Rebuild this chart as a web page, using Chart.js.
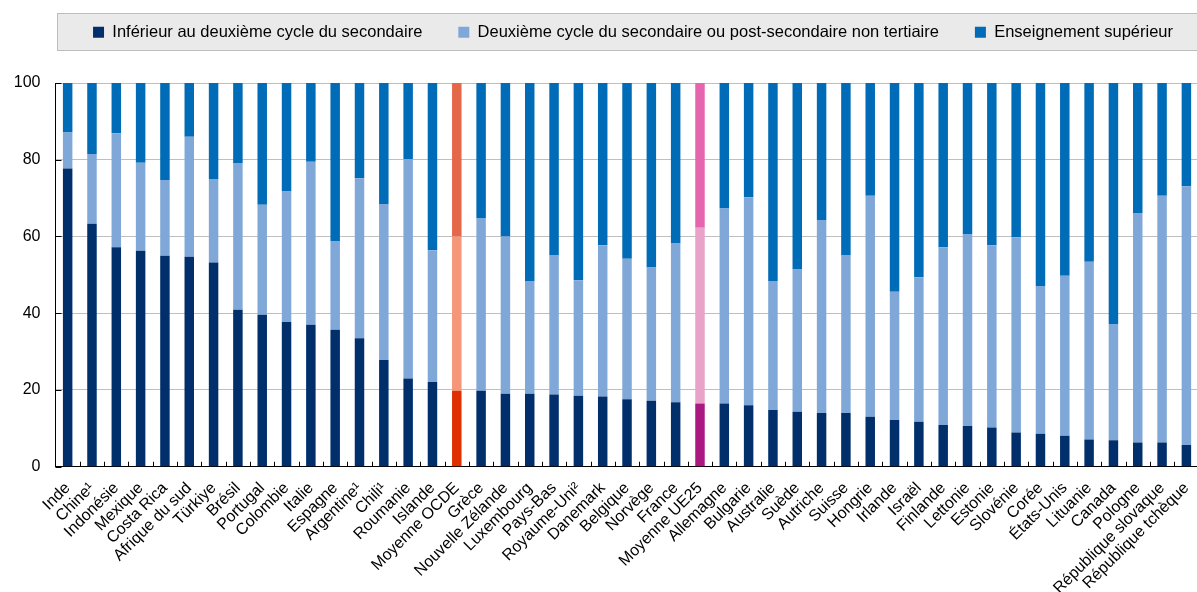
<!DOCTYPE html>
<html>
<head>
<meta charset="utf-8">
<script src="https://cdn.jsdelivr.net/npm/chart.js@4"></script>
<style>
  html, body { margin: 0; padding: 0; background: #fff; overflow: hidden; }
  #wrap { width: 1212px; height: 610px; }
</style>
</head>
<body>
<div id="wrap"><canvas id="c" width="1212" height="610"></canvas></div>
<script>
var countries = ['Inde', 'Chine¹', 'Indonésie', 'Mexique', 'Costa Rica', 'Afrique du sud', 'Türkiye', 'Brésil',
  'Portugal', 'Colombie', 'Italie', 'Espagne', 'Argentine¹', 'Chili¹', 'Roumanie', 'Islande', 'Moyenne OCDE',
  'Grèce', 'Nouvelle Zélande', 'Luxembourg', 'Pays-Bas', 'Royaume-Uni²', 'Danemark', 'Belgique', 'Norvège',
  'France', 'Moyenne UE25', 'Allemagne', 'Bulgarie', 'Australie', 'Suède', 'Autriche', 'Suisse', 'Hongrie',
  'Irlande', 'Israël', 'Finlande', 'Lettonie', 'Estonie', 'Slovénie', 'Corée', 'États-Unis', 'Lituanie',
  'Canada', 'Pologne', 'République slovaque', 'République tchèque'];

var belowUpperSec = [77.7, 63.3, 57.2, 56.3, 55.0, 54.7, 53.2, 40.9, 39.6, 37.7, 37.0, 35.7, 33.5, 27.8, 23.0, 22.1,
  19.8, 19.8, 19.0, 19.0, 18.8, 18.5, 18.3, 17.6, 17.2, 16.8, 16.5, 16.5, 16.0, 14.8, 14.3, 14.0, 14.0, 13.0,
  12.2, 11.7, 10.9, 10.6, 10.2, 8.9, 8.6, 8.1, 7.1, 6.9, 6.3, 6.3, 5.7];

var upperSec = [9.4, 18.2, 29.7, 22.9, 19.7, 31.3, 21.8, 38.1, 28.7, 34.0, 42.5, 23.0, 41.7, 40.7, 57.2, 34.3,
  40.2, 45.0, 41.0, 29.4, 36.4, 30.1, 39.4, 36.6, 34.7, 41.5, 45.8, 50.8, 54.2, 33.6, 37.1, 50.3, 41.2, 57.6,
  33.4, 37.7, 46.3, 49.9, 47.5, 50.9, 38.5, 41.7, 46.3, 30.3, 59.8, 64.3, 67.4];

var tertiary = [12.9, 18.5, 13.1, 20.8, 25.3, 14.0, 25.0, 21.0, 31.7, 28.3, 20.5, 41.3, 24.8, 31.5, 19.8, 43.6,
  40.0, 35.2, 40.0, 51.6, 44.8, 51.4, 42.3, 45.8, 48.1, 41.7, 37.7, 32.7, 29.8, 51.6, 48.6, 35.7, 44.8, 29.4,
  54.4, 50.6, 42.8, 39.5, 42.3, 40.2, 52.9, 50.2, 46.6, 62.8, 33.9, 29.4, 26.9];

var seriesNames = ['Inférieur au deuxième cycle du secondaire',
  'Deuxième cycle du secondaire ou post-secondaire non tertiaire',
  'Enseignement supérieur'];

var yTicks = [0, 20, 40, 60, 80, 100];

// colours: normal, OECD average, EU average
var palette = [
  { base: '#002F6C', oecd: '#DE3000', eu: '#AB1880' },
  { base: '#7FA8D9', oecd: '#F69679', eu: '#E9A3C9' },
  { base: '#006BB6', oecd: '#E5674A', eu: '#E566AF' }
];

function colorsFor(k) {
  return countries.map(function (c) {
    if (c === 'Moyenne OCDE') return palette[k].oecd;
    if (c === 'Moyenne UE25') return palette[k].eu;
    return palette[k].base;
  });
}

var fontFamily = '"Liberation Sans", Arial, sans-serif';

// grey band behind the legend, and extra room between legend and plot
var legendBox = {
  id: 'legendBox',
  beforeLayout: function (chart) {
    var lg = chart.legend;
    if (lg && !lg._tall) {
      var fit = lg.fit;
      lg.fit = function () { fit.call(this); this.height = 95; };
      lg._tall = true;
    }
  },
  beforeDraw: function (chart) {
    var lg = chart.legend;
    if (!lg || !lg.legendHitBoxes.length) return;
    var hb = lg.legendHitBoxes[0];
    var cy = Math.round(hb.top + hb.height / 2);
    var ctx = chart.ctx;
    ctx.save();
    ctx.fillStyle = '#EAEAEA';
    ctx.strokeStyle = '#BDBDBD';
    ctx.lineWidth = 1;
    ctx.fillRect(57, cy - 19, chart.width, 38);
    ctx.strokeRect(57.5, cy - 19 + 0.5, chart.width, 37);
    ctx.restore();
  }
};

var innerTicks = {
  id: 'innerTicks',
  afterDraw: function (chart) {
    var x = chart.scales.x, y = chart.scales.y, ctx = chart.ctx;
    ctx.save();
    ctx.strokeStyle = '#000';
    ctx.lineWidth = 1;
    ctx.beginPath();
    for (var i = 1; i < countries.length; i++) {
      var px = Math.round((x.getPixelForValue(i - 1) + x.getPixelForValue(i)) / 2) + 0.5;
      ctx.moveTo(px, y.bottom);
      ctx.lineTo(px, y.bottom - 5);
    }
    yTicks.forEach(function (v) {
      var py = Math.round(y.getPixelForValue(v)) + 0.5;
      ctx.moveTo(x.left, py);
      ctx.lineTo(x.left + 6, py);
    });
    ctx.stroke();
    ctx.restore();
  }
};

var datasets = [belowUpperSec, upperSec, tertiary].map(function (arr, k) {
  return {
    label: seriesNames[k],
    data: arr,
    backgroundColor: colorsFor(k),
    borderWidth: 0,
    barPercentage: 0.39,
    categoryPercentage: 1.0
  };
});

new Chart(document.getElementById('c'), {
  type: 'bar',
  data: { labels: countries, datasets: datasets },
  plugins: [legendBox, innerTicks],
  options: {
    responsive: false,
    animation: false,
    layout: { padding: { top: -12, right: 3, left: 0, bottom: 0 } },
    plugins: {
      tooltip: { enabled: false },
      legend: {
        position: 'top',
        align: 'end',
        labels: {
          boxWidth: 11,
          boxHeight: 11,
          padding: 36,
          color: '#000',
          font: { family: fontFamily, size: 16.5 },
          generateLabels: function (chart) {
            return chart.data.datasets.map(function (ds, i) {
              return {
                text: ds.label,
                fillStyle: palette[i].base,
                strokeStyle: palette[i].base,
                lineWidth: 0,
                datasetIndex: i
              };
            });
          }
        }
      }
    },
    scales: {
      x: {
        stacked: true,
        grid: { display: false, drawTicks: false },
        border: { color: '#000', width: 1 },
        ticks: {
          autoSkip: false,
          minRotation: 45,
          maxRotation: 45,
          padding: 12,
          color: '#000',
          font: { family: fontFamily, size: 16 }
        }
      },
      y: {
        stacked: true,
        min: 0,
        max: 100,
        afterFit: function (scale) { scale.width = 55.5; },
        afterBuildTicks: function (scale) {
          scale.ticks = yTicks.map(function (v) { return { value: v }; });
        },
        grid: { color: '#BFBFBF', lineWidth: 1, drawTicks: false },
        border: { color: '#000', width: 1 },
        ticks: {
          padding: 15,
          color: '#000',
          font: { family: fontFamily, size: 16 }
        }
      }
    }
  }
});
</script>
</body>
</html>
